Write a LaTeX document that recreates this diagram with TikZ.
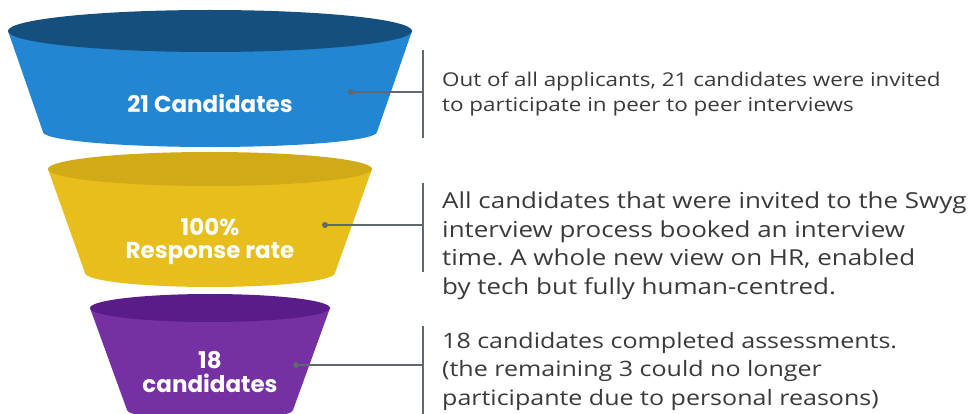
\documentclass[tikz,border=0pt]{standalone}
\usepackage{fontspec}
\setmainfont{Open Sans}[FakeStretch=1.18]
\newfontfamily\poppins{Poppins}
\usetikzlibrary{positioning}
\frenchspacing

\definecolor{blueTop}{HTML}{154F7D}
\definecolor{blueBody}{HTML}{2286D3}
\definecolor{yellowTop}{HTML}{D1AA18}
\definecolor{yellowBody}{HTML}{E8BE1C}
\definecolor{purpleTop}{HTML}{5A1C89}
\definecolor{purpleBody}{HTML}{7530A4}
\definecolor{txtgray}{HTML}{3A3A3A}
\definecolor{linegray}{HTML}{5F686E}

\begin{document}
\begin{tikzpicture}[x=1pt,y=-1pt,
    stage/.style={text=white,font=\poppins\bfseries\fontsize{23}{24}\selectfont,align=center,inner sep=0pt,anchor=base},
    desc/.style={text=txtgray,align=left,anchor=base west,inner sep=0pt},
    conn/.style={draw=linegray,line width=1.3pt}]
  \useasboundingbox (0,0) rectangle (970,414);
  \clip (0,0) rectangle (970,414);
  % top stage
  \fill[blueBody] (8,31) -- (43,132) arc[start angle=180,end angle=0,x radius=167,y radius=15] -- (412,31) -- cycle;
  \fill[blueTop] (210,31) ellipse[x radius=202,y radius=21];
  % middle stage
  \fill[yellowBody] (48,169) -- (85,273) arc[start angle=180,end angle=0,x radius=125,y radius=14] -- (372,169) -- cycle;
  \fill[yellowTop] (210,169) ellipse[x radius=162,y radius=17];
  % bottom stage
  \fill[purpleBody] (90,308) -- (127,410) arc[start angle=180,end angle=0,x radius=83,y radius=10] -- (330,308) -- cycle;
  \fill[purpleTop] (210,308) ellipse[x radius=120,y radius=14];

  \node[stage] (invited) at (210,113) {21 Candidates};
  \node[stage] (response) at (210,259) {100\%\\Response rate};
  \node[stage] (completed) at (210,392) {18\\candidates};

  \node[desc,font=\fontsize{19}{25}\selectfont] (invitedtxt) at (442,112)
    {Out of all applicants, 21 candidates were invited\\to participate in peer to peer interviews};
  \node[desc,font=\fontsize{22}{29}\selectfont] (responsetxt) at (442,295)
    {All candidates that were invited to the Swyg\\interview process booked an interview\\time. A whole new view on HR, enabled\\by tech but fully human-centred.};
  \node[desc,font=\fontsize{21.2}{28.5}\selectfont] (completedtxt) at (442,405)
    {18 candidates completed assessments.\\(the remaining 3 could no longer\\participante due to personal reasons)};

  % connectors
  \coordinate (d1) at (351,92);   \coordinate (s1) at (423,92);
  \coordinate (t1) at (423,50);   \coordinate (b1) at (423,138);
  \coordinate (d2) at (325,225);  \coordinate (s2) at (423,225);
  \coordinate (t2) at (423,183);  \coordinate (b2) at (423,272);
  \coordinate (d3) at (296,365);  \coordinate (s3) at (423,365);
  \coordinate (t3) at (423,326);  \coordinate (b3) at (423,414);
  \foreach \i in {1,2,3} {
    \fill[linegray] (d\i) circle[radius=3];
    \draw[conn] (d\i) -- (s\i);
    \draw[conn] (t\i) -- (b\i);
  }
\end{tikzpicture}
\end{document}
